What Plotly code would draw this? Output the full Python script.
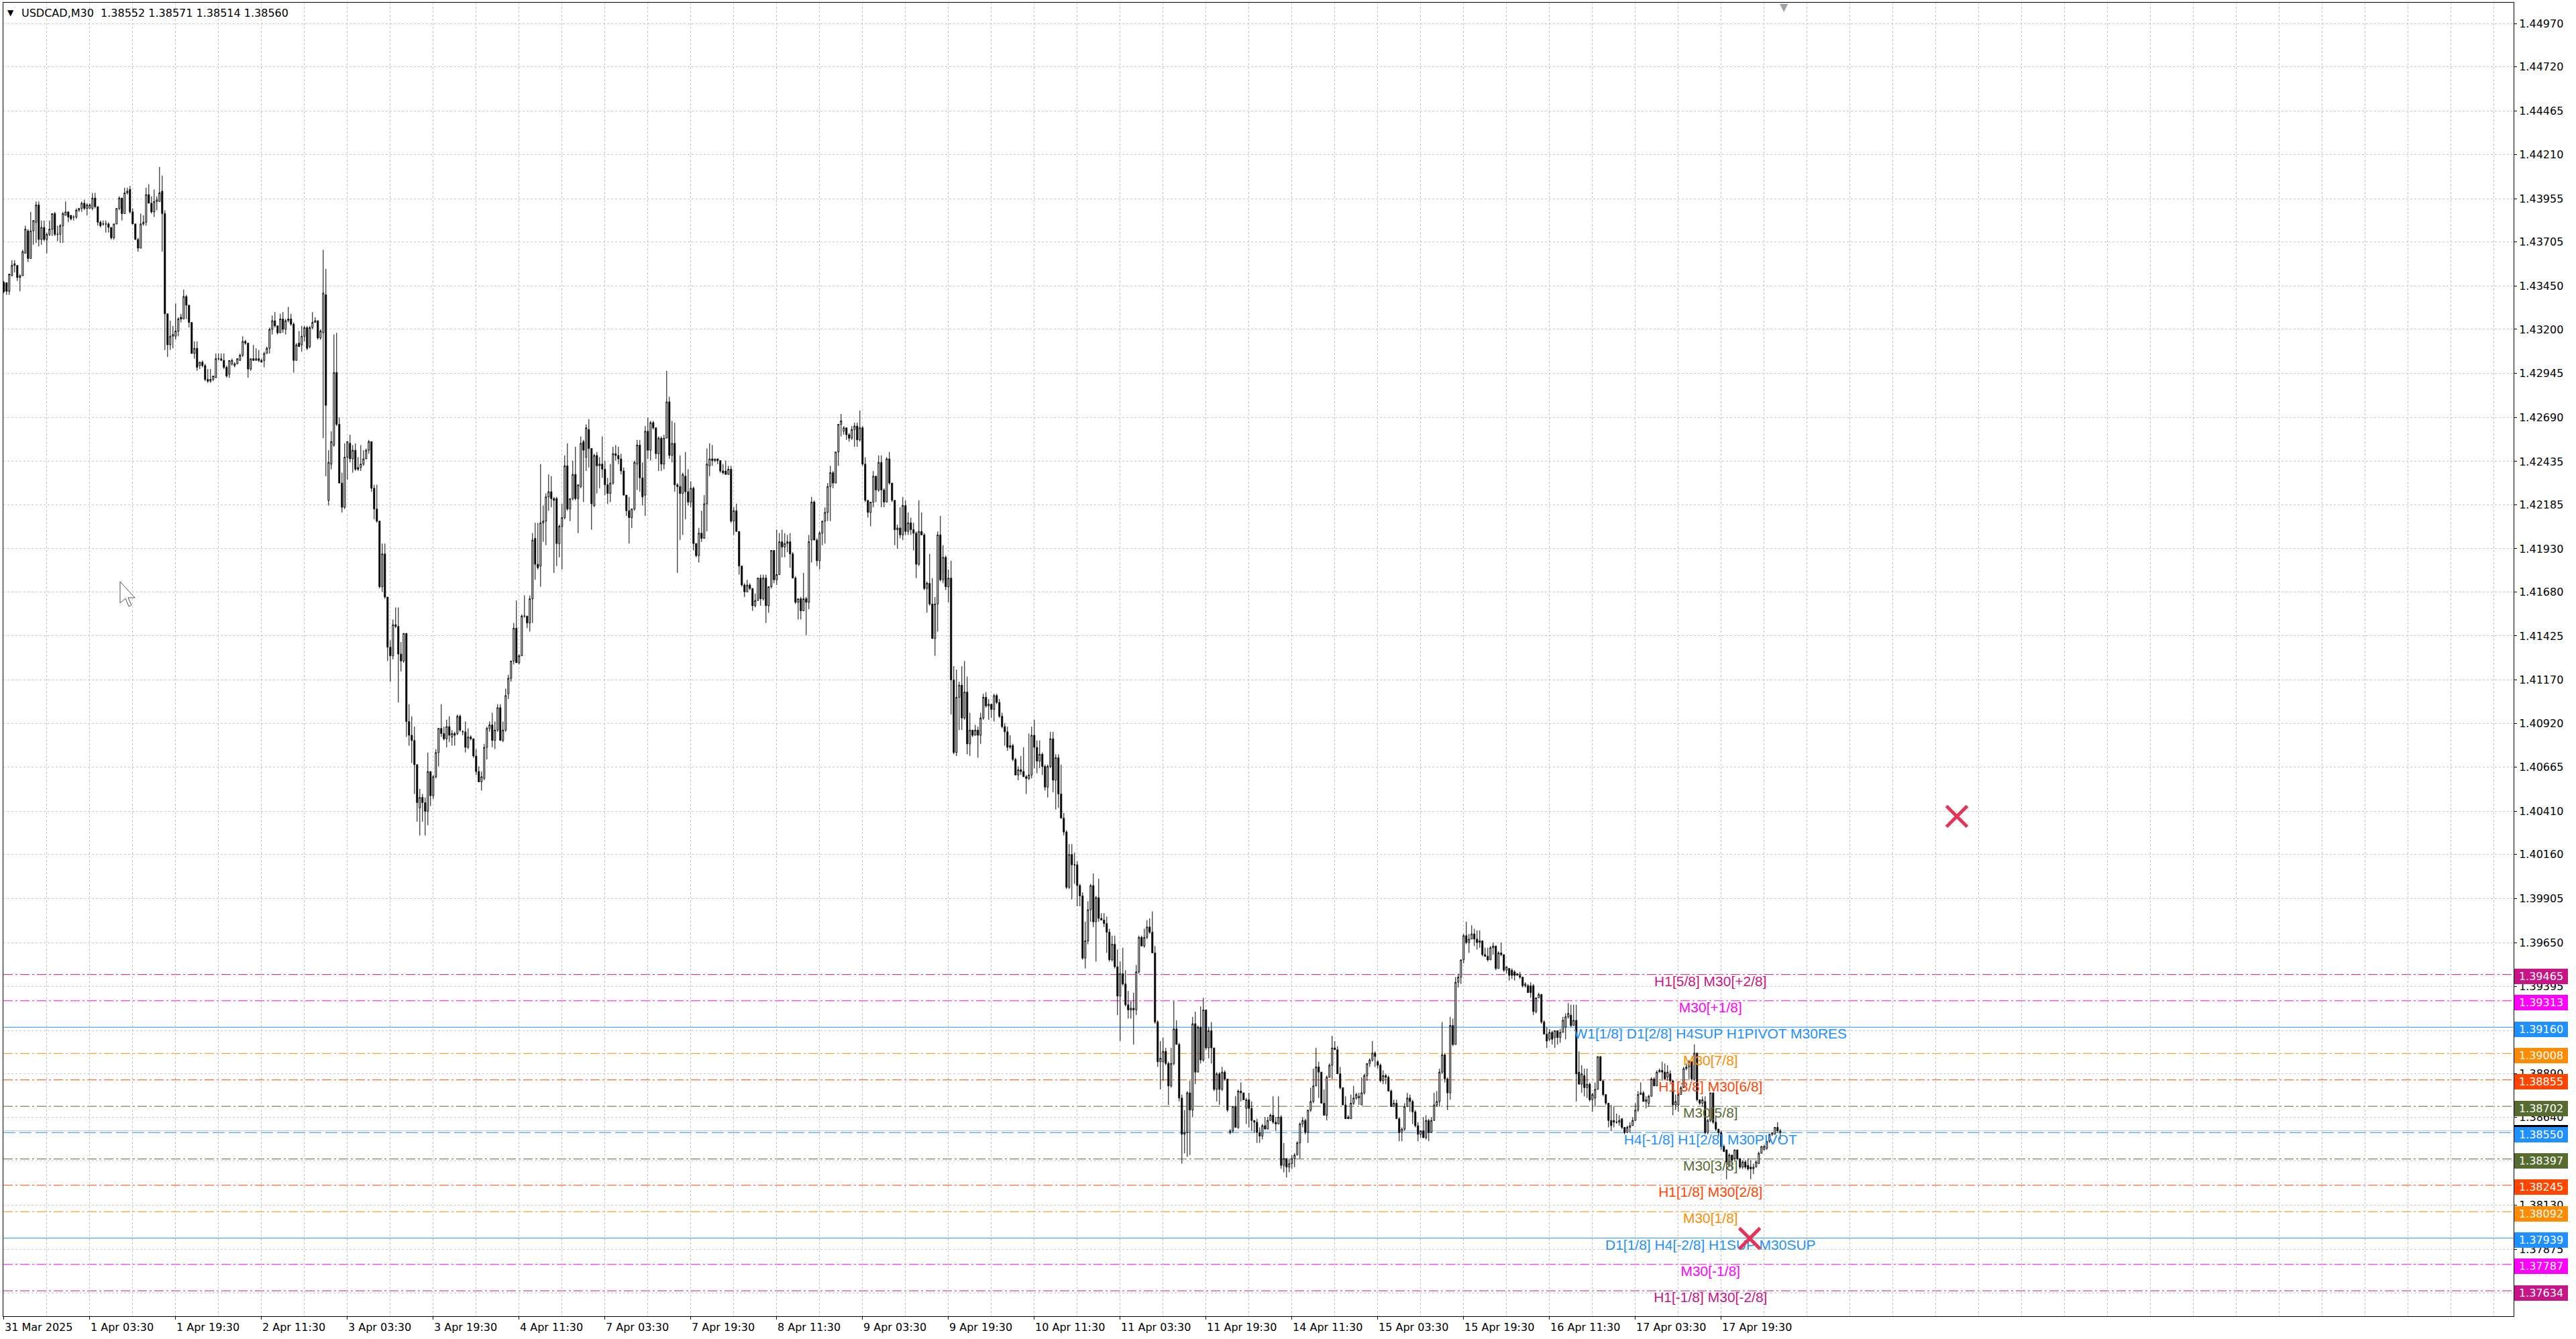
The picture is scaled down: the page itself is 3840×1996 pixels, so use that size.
import plotly.graph_objects as go

# USDCAD M30 candles, prices in pips (1 pip = 0.0001), bar 0 = 31 Mar 11:30
open_pips = [
    14347,14347,14342,14351,14357,14357,14350,14351,14364,14377,
    14361,14377,14382,14392,14372,14379,14372,14375,14378,14387,
    14375,14375,14380,14386,14388,14386,14385,14385,14389,14390,
    14393,14390,14390,14390,14396,14391,14382,14381,14381,14381,
    14379,14373,14381,14390,14396,14387,14399,14401,14388,14381,
    14372,14367,14381,14382,14398,14393,14388,14394,14394,14400,
    14387,14329,14311,14316,14316,14319,14327,14326,14339,14334,
    14324,14306,14309,14299,14301,14299,14291,14290,14291,14292,
    14303,14303,14302,14298,14294,14300,14299,14300,14302,14305,
    14313,14312,14297,14303,14302,14303,14302,14302,14306,14309,
    14320,14325,14322,14318,14326,14320,14325,14326,14323,14302,
    14312,14311,14316,14321,14310,14321,14324,14325,14315,14318,
    14340,14221,14242,14253,14295,14265,14231,14217,14246,14254,
    14245,14250,14240,14240,14242,14245,14250,14255,14228,14216,
    14209,14171,14190,14165,14136,14131,14149,14148,14132,14128,
    14144,14093,14085,14082,14068,14043,14049,14046,14041,14064,
    14050,14061,14075,14089,14086,14083,14090,14084,14086,14086,
    14096,14087,14087,14078,14084,14083,14073,14064,14058,14060,
    14078,14089,14091,14082,14088,14101,14082,14088,14109,14118,
    14128,14147,14127,14131,14154,14154,14150,14164,14199,14184,
    14183,14208,14209,14223,14226,14222,14222,14196,14206,14211,
    14241,14216,14222,14236,14222,14229,14255,14246,14262,14251,
    14218,14247,14241,14242,14239,14230,14225,14231,14248,14247,
    14245,14238,14224,14215,14211,14216,14242,14253,14234,14224,
    14261,14250,14266,14263,14248,14257,14242,14257,14278,14247,
    14254,14230,14229,14225,14235,14226,14220,14228,14196,14189,
    14202,14199,14219,14241,14245,14244,14245,14244,14238,14238,
    14236,14239,14209,14215,14203,14183,14172,14168,14172,14170,
    14160,14163,14176,14164,14176,14160,14171,14192,14175,14178,
    14197,14194,14196,14197,14190,14176,14162,14164,14157,14164,
    14162,14198,14220,14198,14186,14202,14209,14214,14229,14237,
    14231,14249,14265,14261,14263,14259,14257,14262,14264,14256,
    14263,14242,14221,14214,14220,14235,14227,14243,14227,14220,
    14245,14231,14221,14204,14205,14201,14218,14203,14208,14204,
    14202,14184,14203,14201,14170,14173,14161,14141,14161,14201,
    14175,14188,14171,14176,14117,14075,14107,14114,14095,14110,
    14080,14088,14085,14088,14085,14095,14107,14102,14103,14100,
    14108,14104,14096,14090,14087,14078,14079,14071,14062,14065,
    14064,14061,14060,14062,14085,14078,14070,14074,14067,14055,
    14067,14083,14059,14072,14051,14037,14029,13997,14016,14010,
    14010,13998,13992,13956,13966,13984,13998,13977,13991,13979,
    13978,13976,13971,13955,13964,13951,13934,13947,13941,13929,
    13926,13927,13926,13948,13968,13963,13968,13974,13971,13959,
    13919,13896,13896,13902,13895,13882,13895,13915,13906,13875,
    13854,13855,13878,13868,13918,13890,13916,13897,13926,13904,
    13914,13904,13880,13889,13880,13890,13886,13855,13856,13870,
    13858,13879,13878,13869,13874,13869,13862,13861,13855,13853,
    13859,13857,13862,13865,13861,13860,13864,13836,13840,13835,
    13837,13840,13842,13849,13860,13862,13855,13868,13873,13882,
    13893,13890,13872,13865,13887,13894,13904,13903,13889,13881,
    13871,13864,13863,13872,13875,13875,13871,13878,13888,13895,
    13897,13901,13896,13894,13885,13888,13887,13879,13870,13872,
    13863,13855,13857,13870,13875,13873,13867,13859,13854,13856,
    13852,13862,13855,13862,13871,13873,13890,13900,13886,13878,
    13917,13906,13942,13945,13955,13969,13965,13967,13970,13967,
    13965,13966,13958,13957,13955,13962,13963,13950,13959,13958,
    13949,13950,13949,13948,13946,13946,13945,13940,13940,13940,
    13940,13925,13933,13935,13919,13912,13909,13913,13910,13914,
    13910,13913,13916,13922,13923,13917,13920,13890,13883,13888,
    13881,13883,13874,13875,13880,13899,13885,13877,13872,13862,
    13862,13861,13861,13863,13858,13855,13858,13859,13862,13868,
    13877,13878,13873,13872,13876,13886,13882,13890,13891,13890,
    13887,13889,13885,13871,13871,13877,13881,13892,13893,13896,
    13886,13901,13874,13872,13873,13855,13862,13878,13861,13857,
    13855,13847,13845,13836,13842,13840,13845,13840,13835,13838,
    13836,13835,13834,13835,13837,13843,13845,13846,13850,13854,
    13854,13858,13855,
]
high_pips = [
    14348,14347,14352,14360,14360,14357,14352,14366,14380,14378,
    14388,14383,14394,14394,14383,14383,14376,14383,14387,14388,
    14380,14381,14388,14394,14388,14386,14386,14390,14390,14394,
    14395,14393,14393,14399,14399,14391,14383,14383,14383,14382,
    14379,14381,14390,14397,14396,14402,14402,14403,14390,14381,
    14373,14387,14386,14402,14404,14397,14401,14397,14414,14409,
    14389,14329,14325,14322,14335,14327,14329,14343,14340,14334,
    14324,14313,14313,14301,14302,14300,14297,14297,14293,14306,
    14306,14306,14306,14299,14302,14303,14301,14303,14306,14316,
    14314,14312,14303,14311,14309,14308,14303,14307,14310,14321,
    14328,14330,14322,14329,14330,14326,14333,14329,14324,14312,
    14319,14322,14322,14322,14322,14330,14327,14325,14320,14366,
    14355,14250,14261,14317,14318,14269,14237,14254,14255,14259,
    14253,14254,14246,14253,14250,14251,14256,14255,14230,14230,
    14209,14196,14196,14165,14140,14152,14159,14159,14139,14144,
    14144,14103,14096,14090,14068,14054,14051,14049,14075,14064,
    14062,14077,14089,14103,14090,14094,14096,14088,14087,14097,
    14097,14088,14093,14089,14085,14083,14077,14067,14064,14080,
    14090,14093,14098,14093,14103,14103,14093,14112,14120,14128,
    14150,14163,14132,14155,14166,14154,14166,14202,14208,14208,
    14242,14218,14225,14236,14235,14223,14223,14207,14219,14247,
    14254,14222,14244,14252,14230,14258,14256,14265,14268,14251,
    14248,14249,14246,14258,14244,14234,14242,14252,14253,14252,
    14248,14240,14224,14223,14216,14244,14256,14256,14243,14264,
    14269,14267,14267,14263,14258,14258,14259,14296,14281,14267,
    14266,14231,14247,14237,14249,14239,14232,14229,14196,14205,
    14215,14224,14251,14254,14253,14245,14245,14244,14242,14244,
    14241,14241,14217,14219,14203,14183,14173,14175,14173,14170,
    14167,14176,14178,14178,14178,14171,14192,14192,14204,14202,
    14204,14202,14201,14202,14191,14177,14164,14165,14179,14165,
    14201,14223,14221,14199,14203,14209,14217,14231,14241,14238,
    14249,14265,14271,14264,14263,14260,14264,14266,14266,14273,
    14264,14246,14221,14220,14238,14235,14247,14247,14228,14246,
    14249,14231,14221,14207,14217,14223,14221,14214,14211,14208,
    14203,14221,14214,14202,14174,14190,14176,14165,14203,14212,
    14195,14189,14181,14186,14125,14123,14116,14125,14128,14119,
    14098,14088,14091,14090,14098,14109,14110,14106,14103,14109,
    14109,14106,14098,14092,14090,14085,14080,14072,14067,14073,
    14078,14062,14086,14090,14094,14082,14082,14075,14068,14068,
    14087,14087,14074,14074,14068,14040,14030,14022,14022,14017,
    14012,13999,13994,13977,13989,13999,14005,13992,14002,13982,
    13982,13980,13973,13969,13969,13961,13954,13962,13949,13937,
    13931,13936,13952,13969,13969,13973,13978,13979,13983,13963,
    13920,13908,13910,13904,13896,13904,13931,13920,13907,13877,
    13868,13879,13885,13922,13925,13917,13928,13933,13926,13916,
    13919,13904,13890,13890,13893,13891,13886,13857,13870,13876,
    13880,13884,13878,13875,13878,13873,13862,13863,13858,13860,
    13864,13864,13866,13876,13864,13876,13865,13849,13840,13840,
    13842,13843,13850,13861,13864,13863,13868,13881,13892,13904,
    13896,13890,13880,13888,13895,13911,13908,13905,13893,13881,
    13876,13865,13877,13882,13878,13878,13887,13889,13895,13898,
    13908,13902,13897,13895,13891,13889,13888,13880,13874,13874,
    13864,13858,13872,13878,13877,13874,13868,13861,13856,13864,
    13865,13863,13864,13878,13879,13892,13919,13901,13887,13922,
    13921,13945,13947,13955,13970,13977,13970,13975,13973,13972,
    13972,13966,13962,13962,13963,13965,13963,13960,13965,13958,
    13951,13950,13950,13949,13947,13948,13945,13942,13941,13942,
    13941,13933,13936,13935,13920,13916,13915,13914,13914,13914,
    13915,13922,13924,13930,13929,13929,13929,13902,13894,13892,
    13892,13884,13878,13884,13899,13899,13885,13877,13872,13871,
    13870,13866,13865,13863,13858,13859,13861,13864,13872,13879,
    13884,13879,13876,13877,13887,13887,13891,13892,13896,13895,
    13894,13891,13885,13877,13878,13882,13893,13895,13897,13896,
    13906,13901,13874,13876,13876,13863,13878,13878,13864,13857,
    13856,13848,13845,13843,13842,13845,13845,13840,13839,13839,
    13840,13839,13837,13839,13844,13847,13848,13850,13854,13855,
    13858,13861,13857,
]
low_pips = [
    14341,14340,14340,14351,14353,14348,14342,14351,14364,14359,
    14361,14369,14370,14368,14369,14371,14364,14374,14374,14374,
    14371,14370,14370,14386,14382,14383,14383,14384,14388,14388,
    14389,14386,14390,14389,14390,14380,14379,14380,14376,14376,
    14372,14372,14381,14389,14383,14387,14398,14387,14381,14372,
    14365,14367,14380,14380,14393,14387,14385,14389,14394,14365,
    14308,14304,14308,14309,14314,14316,14324,14326,14326,14321,
    14306,14303,14296,14297,14298,14290,14289,14289,14290,14292,
    14302,14302,14297,14292,14292,14299,14298,14300,14302,14304,
    14311,14292,14296,14302,14302,14301,14301,14298,14306,14306,
    14317,14321,14317,14318,14318,14317,14324,14322,14295,14302,
    14310,14307,14313,14308,14309,14320,14324,14314,14314,14257,
    14235,14218,14239,14252,14264,14231,14214,14216,14233,14243,
    14237,14238,14238,14238,14241,14245,14248,14226,14210,14208,
    14170,14168,14164,14128,14116,14129,14147,14104,14122,14127,
    14084,14079,14069,14051,14035,14027,14035,14027,14033,14044,
    14048,14060,14067,14084,14082,14078,14081,14079,14079,14085,
    14087,14085,14075,14077,14082,14072,14062,14058,14053,14059,
    14071,14087,14078,14077,14087,14082,14081,14087,14106,14116,
    14126,14127,14126,14131,14153,14147,14145,14150,14175,14181,
    14171,14197,14195,14215,14217,14179,14183,14188,14181,14210,
    14215,14209,14221,14221,14202,14228,14220,14238,14240,14204,
    14217,14225,14228,14234,14224,14219,14220,14230,14244,14242,
    14236,14224,14212,14196,14205,14215,14227,14226,14218,14212,
    14245,14244,14262,14245,14238,14238,14239,14257,14245,14243,
    14226,14179,14198,14201,14210,14218,14217,14192,14188,14185,
    14197,14199,14203,14235,14241,14243,14242,14237,14236,14236,
    14236,14208,14201,14203,14178,14171,14165,14168,14169,14157,
    14159,14163,14160,14163,14150,14156,14170,14173,14172,14178,
    14188,14188,14191,14182,14176,14161,14152,14152,14157,14143,
    14158,14185,14198,14183,14181,14195,14196,14209,14209,14228,
    14231,14241,14258,14259,14256,14255,14256,14252,14252,14255,
    14241,14220,14211,14206,14217,14220,14226,14217,14217,14220,
    14230,14220,14195,14193,14199,14198,14201,14201,14201,14192,
    14176,14183,14201,14169,14156,14160,14141,14131,14145,14174,
    14173,14169,14162,14097,14074,14073,14088,14088,14094,14074,
    14073,14084,14085,14072,14080,14094,14101,14094,14095,14093,
    14103,14095,14089,14079,14076,14077,14070,14062,14059,14062,
    14061,14051,14059,14060,14066,14063,14066,14062,14053,14049,
    14066,14052,14042,14043,14037,14027,13996,13996,13990,13999,
    13986,13986,13955,13950,13964,13977,13974,13954,13977,13978,
    13974,13959,13954,13954,13950,13923,13908,13940,13928,13921,
    13921,13906,13923,13947,13963,13962,13967,13970,13959,13918,
    13893,13880,13885,13894,13871,13881,13894,13906,13873,13837,
    13843,13841,13842,13864,13883,13890,13895,13896,13903,13898,
    13895,13879,13873,13871,13879,13885,13867,13854,13855,13858,
    13857,13873,13874,13860,13858,13856,13855,13849,13849,13851,
    13857,13857,13862,13860,13856,13860,13834,13832,13829,13832,
    13834,13835,13842,13840,13858,13854,13849,13867,13872,13882,
    13875,13872,13865,13862,13887,13886,13903,13889,13880,13871,
    13863,13863,13863,13871,13874,13871,13871,13877,13885,13893,
    13896,13893,13892,13884,13883,13883,13879,13870,13870,13863,
    13850,13850,13856,13870,13867,13860,13858,13850,13852,13852,
    13851,13850,13855,13862,13870,13870,13889,13884,13868,13874,
    13905,13906,13939,13941,13953,13964,13959,13967,13963,13961,
    13962,13957,13957,13954,13955,13958,13949,13950,13957,13948,
    13947,13943,13944,13943,13946,13944,13939,13939,13936,13933,
    13923,13924,13933,13918,13912,13904,13908,13906,13904,13906,
    13907,13913,13909,13921,13916,13917,13873,13883,13878,13876,
    13875,13873,13867,13870,13880,13885,13876,13871,13858,13856,
    13858,13860,13859,13857,13854,13855,13855,13859,13862,13867,
    13877,13873,13869,13870,13876,13882,13882,13890,13885,13886,
    13885,13884,13865,13868,13867,13877,13881,13891,13886,13885,
    13885,13873,13871,13870,13854,13854,13861,13860,13856,13853,
    13845,13844,13828,13835,13834,13839,13839,13834,13834,13834,
    13833,13828,13831,13835,13837,13843,13845,13845,13849,13853,
    13854,13855,13851,
]
close_pips = [
    14342,14342,14352,14357,14358,14350,14351,14365,14378,14361,
    14377,14383,14392,14372,14379,14372,14375,14378,14387,14375,
    14375,14380,14387,14388,14385,14384,14385,14389,14390,14393,
    14390,14392,14392,14396,14391,14382,14380,14381,14381,14379,
    14373,14381,14390,14396,14387,14399,14400,14388,14381,14372,
    14367,14381,14382,14398,14393,14388,14394,14395,14399,14387,
    14329,14311,14316,14317,14319,14326,14326,14339,14334,14324,
    14306,14309,14298,14301,14299,14291,14290,14291,14293,14303,
    14303,14302,14298,14293,14302,14302,14300,14303,14305,14313,
    14312,14297,14303,14302,14303,14302,14301,14306,14309,14320,
    14325,14322,14318,14326,14320,14325,14326,14323,14302,14311,
    14310,14316,14321,14309,14321,14324,14325,14315,14319,14341,
    14276,14243,14255,14295,14265,14231,14217,14246,14255,14245,
    14250,14239,14239,14242,14245,14250,14255,14228,14216,14209,
    14171,14190,14165,14136,14131,14149,14148,14132,14128,14144,
    14093,14085,14082,14068,14046,14049,14046,14041,14064,14050,
    14061,14075,14089,14086,14083,14090,14085,14086,14085,14096,
    14088,14087,14078,14084,14083,14073,14064,14058,14061,14078,
    14089,14091,14082,14088,14101,14082,14088,14108,14118,14128,
    14147,14127,14131,14154,14154,14150,14164,14198,14184,14182,
    14208,14209,14223,14226,14222,14221,14196,14206,14211,14241,
    14216,14222,14236,14222,14230,14254,14250,14263,14251,14219,
    14247,14241,14242,14239,14230,14225,14231,14248,14247,14245,
    14238,14224,14215,14211,14216,14243,14253,14234,14223,14261,
    14250,14266,14263,14248,14257,14242,14257,14278,14247,14254,
    14230,14229,14225,14236,14226,14220,14228,14196,14189,14202,
    14199,14219,14242,14245,14244,14245,14244,14238,14237,14236,
    14239,14209,14215,14203,14183,14172,14168,14172,14170,14160,
    14163,14176,14164,14176,14160,14171,14192,14175,14178,14197,
    14194,14196,14197,14190,14176,14162,14164,14157,14164,14162,
    14197,14220,14198,14186,14202,14209,14214,14229,14237,14231,
    14249,14265,14267,14263,14259,14257,14262,14264,14256,14263,
    14242,14221,14214,14220,14235,14227,14243,14227,14220,14245,
    14231,14221,14204,14205,14201,14218,14203,14208,14204,14202,
    14184,14203,14201,14170,14173,14161,14141,14161,14201,14175,
    14188,14171,14176,14117,14075,14107,14114,14095,14110,14080,
    14088,14085,14088,14085,14095,14107,14102,14103,14100,14108,
    14104,14096,14090,14087,14078,14079,14071,14062,14065,14064,
    14061,14060,14062,14085,14078,14070,14074,14067,14055,14067,
    14083,14059,14072,14051,14037,14029,13997,14016,14010,14010,
    13998,13992,13956,13966,13984,13998,13977,13991,13979,13978,
    13976,13971,13955,13964,13951,13934,13947,13941,13929,13926,
    13927,13926,13948,13968,13963,13968,13974,13971,13959,13919,
    13896,13898,13902,13895,13882,13895,13915,13906,13875,13854,
    13855,13878,13868,13918,13890,13916,13897,13926,13904,13914,
    13904,13880,13889,13880,13890,13886,13868,13856,13870,13858,
    13879,13878,13874,13874,13869,13862,13861,13855,13853,13859,
    13857,13862,13865,13861,13860,13864,13836,13840,13835,13837,
    13840,13842,13849,13860,13862,13855,13868,13873,13882,13893,
    13890,13872,13865,13887,13894,13904,13903,13889,13881,13871,
    13863,13863,13872,13875,13877,13876,13878,13888,13895,13897,
    13901,13899,13894,13885,13888,13887,13879,13870,13872,13863,
    13855,13857,13870,13875,13873,13867,13859,13854,13856,13852,
    13862,13855,13862,13871,13873,13890,13900,13886,13878,13917,
    13906,13942,13945,13955,13969,13965,13967,13970,13967,13965,
    13966,13958,13957,13955,13962,13963,13950,13959,13958,13949,
    13951,13946,13946,13946,13947,13945,13940,13941,13936,13936,
    13925,13933,13935,13919,13912,13908,13913,13909,13914,13910,
    13913,13920,13922,13924,13917,13920,13889,13883,13889,13881,
    13883,13874,13877,13880,13899,13885,13877,13872,13862,13859,
    13861,13861,13862,13858,13855,13858,13859,13862,13868,13877,
    13878,13873,13874,13876,13886,13882,13890,13891,13890,13886,
    13890,13885,13871,13873,13877,13881,13892,13893,13896,13886,
    13901,13874,13872,13874,13855,13862,13878,13861,13857,13855,
    13847,13844,13838,13842,13839,13845,13840,13835,13838,13835,
    13834,13834,13835,13838,13843,13847,13847,13850,13854,13855,
    13858,13856,13856,
]

# time axis labels (every 32 bars)
tick_bars = list(range(0, 641, 32))
tick_labels = ["31 Mar 2025", "1 Apr 03:30", "1 Apr 19:30", "2 Apr 11:30", "3 Apr 03:30",
               "3 Apr 19:30", "4 Apr 11:30", "7 Apr 03:30", "7 Apr 19:30", "8 Apr 11:30",
               "9 Apr 03:30", "9 Apr 19:30", "10 Apr 11:30", "11 Apr 03:30", "11 Apr 19:30",
               "14 Apr 11:30", "15 Apr 03:30", "15 Apr 19:30", "16 Apr 11:30", "17 Apr 03:30",
               "17 Apr 19:30"]

price_ticks = [1.44970, 1.44720, 1.44465, 1.44210, 1.43955, 1.43705, 1.43450, 1.43200,
               1.42945, 1.42690, 1.42435, 1.42185, 1.41930, 1.41680, 1.41425, 1.41170,
               1.40920, 1.40665, 1.40410, 1.40160, 1.39905, 1.39650, 1.39395, 1.39140,
               1.38890, 1.38640, 1.38385, 1.38130, 1.37875, 1.37620]

# murrey / pivot levels
level_prices = [1.39465, 1.39313, 1.39160, 1.39008, 1.38855, 1.38702, 1.38550,
                1.38397, 1.38245, 1.38092, 1.37939, 1.37787, 1.37634]
level_names = ["H1[5/8] M30[+2/8]", "M30[+1/8]", "W1[1/8] D1[2/8] H4SUP H1PIVOT M30RES",
               "M30[7/8]", "H1[3/8] M30[6/8]", "M30[5/8]", "H4[-1/8] H1[2/8] M30PIVOT",
               "M30[3/8]", "H1[1/8] M30[2/8]", "M30[1/8]", "D1[1/8] H4[-2/8] H1SUP M30SUP",
               "M30[-1/8]", "H1[-1/8] M30[-2/8]"]
level_colors = ["#C71585", "#FF00FF", "#1E90FF", "#FF8C00", "#FF4500", "#556B2F", "#1E90FF",
                "#556B2F", "#FF4500", "#FF8C00", "#1E90FF", "#FF00FF", "#C71585"]
level_styles = ["dashdot", "dashdot", "solid", "dashdot", "dashdot", "dashdot", "dash",
                "dashdot", "dashdot", "dashdot", "solid", "dashdot", "dashdot"]
label_bar = 636

bid_price = 1.38560
title_text = "USDCAD,M30\u00a0 1.38552 1.38571 1.38514 1.38560"

# red cross objects
cross_bars = [727.8, 650.6]
cross_prices = [1.40380, 1.37937]
shift_bar = 663.3

W, H = 3840, 1996
ML, MR, MT, MB = 5, 93, 4, 34
y_range = [1.37487, 1.45091]
x_range = [-0.2, 935.3]
plot_w = W - ML - MR
plot_h = H - MT - MB
px_per_price = plot_h / (y_range[1] - y_range[0])

GRID = "#C8C8C8"
AXFONT = dict(family="DejaVu Sans", size=16, color="black")

dash_map = {"dashdot": "14px,4px,3px,4px", "dash": "18px,6px", "solid": "solid"}

opens = [v / 10000 for v in open_pips]
highs = [v / 10000 for v in high_pips]
lows = [v / 10000 for v in low_pips]
closes = [v / 10000 for v in close_pips]
bars = list(range(len(closes)))

fig = go.Figure()

# level captions (under the candles)
text_off = 12 / px_per_price
fig.add_trace(go.Scatter(
    x=[label_bar] * len(level_prices),
    y=[p - text_off for p in level_prices],
    mode="text", text=level_names,
    textposition="middle center",
    textfont=dict(family="Liberation Sans, Arial", size=21, color=level_colors),
    hoverinfo="skip", showlegend=False,
))

fig.add_trace(go.Candlestick(
    x=bars, open=opens, high=highs, low=lows, close=closes,
    increasing=dict(line=dict(color="black", width=1), fillcolor="white"),
    decreasing=dict(line=dict(color="black", width=1), fillcolor="black"),
    whiskerwidth=0, hoverinfo="skip", showlegend=False,
))

fig.add_trace(go.Scatter(
    x=cross_bars, y=cross_prices, mode="markers",
    marker=dict(symbol="x-thin", size=31, line=dict(color="#E63358", width=5)),
    hoverinfo="skip", showlegend=False,
))

shapes = []
for p, c, s in zip(level_prices, level_colors, level_styles):
    shapes.append(dict(type="line", xref="paper", x0=0, x1=1, yref="y", y0=p, y1=p,
                       line=dict(color=c, width=1, dash=dash_map[s]), layer="between"))
shapes.append(dict(type="line", xref="paper", x0=0, x1=1, yref="y", y0=bid_price, y1=bid_price,
                   line=dict(color="#C0C0C0", width=1), layer="between"))


# mouse pointer left on the chart
def to_paper(px, py):
    return (px - ML) / plot_w, 1 - (py - MT) / plot_h


cursor = [(0, 0), (0, 32), (8, 25), (13, 37), (17, 35), (12, 24), (22, 24)]
pts = [to_paper(179 + dx, 867 + dy) for dx, dy in cursor]
path = "M " + " L ".join(f"{a:.5f},{b:.5f}" for a, b in pts) + " Z"
shapes.append(dict(type="path", xref="paper", yref="paper", path=path,
                   fillcolor="white", line=dict(color="#505050", width=1), layer="above"))

annotations = []
annotations.append(dict(xref="paper", yref="paper", x=0, y=1, xanchor="left", yanchor="middle",
                        xshift=4, yshift=-15, text="\u25bc", showarrow=False,
                        font=dict(family="DejaVu Sans", size=12, color="black")))
annotations.append(dict(xref="paper", yref="paper", x=0, y=1, xanchor="left", yanchor="middle",
                        xshift=25, yshift=-15.5, text=title_text, showarrow=False, font=AXFONT))
annotations.append(dict(xref="x", yref="paper", x=shift_bar, y=1, xanchor="center", yanchor="top",
                        yshift=5, text="\u25bc", showarrow=False,
                        font=dict(family="DejaVu Sans", size=16, color="#A0A0A0")))

for b, t in zip(tick_bars, tick_labels):
    annotations.append(dict(xref="x", yref="paper", x=b, y=0, xanchor="left", yanchor="middle",
                            xshift=-1, yshift=-16.5, text=t, showarrow=False, font=AXFONT))

box_list = [(bid_price, "black")] + list(zip(level_prices, level_colors))
for p, c in box_list:
    annotations.append(dict(xref="paper", yref="y", x=1, y=p, xanchor="left", yanchor="middle",
                            xshift=1, yshift=-3, text=f"{p:.5f}", showarrow=False,
                            font=dict(family="DejaVu Sans", size=16, color="white"),
                            bgcolor=c, borderpad=2, borderwidth=1, bordercolor=c,
                            width=74, height=17, align="center"))

fig.update_layout(
    width=W, height=H,
    margin=dict(l=ML, r=MR, t=MT, b=MB),
    paper_bgcolor="white", plot_bgcolor="white",
    hovermode=False, showlegend=False,
    shapes=shapes, annotations=annotations,
    xaxis=dict(
        range=x_range, tickmode="array", tickvals=tick_bars, showticklabels=False,
        ticks="outside", ticklen=4, tickcolor="black",
        showgrid=True, gridcolor=GRID, griddash="3px,3px", gridwidth=1,
        minor=dict(tickmode="linear", tick0=0, dtick=16, showgrid=True, gridcolor=GRID,
                   griddash="3px,3px", ticks=""),
        showline=True, mirror=True, linecolor="black", linewidth=1,
        zeroline=False, rangeslider=dict(visible=False), fixedrange=True,
    ),
    yaxis=dict(
        range=y_range, side="right", tickmode="array", tickvals=price_ticks,
        ticktext=[f"{v:.5f}" for v in price_ticks], tickfont=AXFONT,
        ticks="outside", ticklen=4, tickcolor="black",
        showgrid=True, gridcolor=GRID, griddash="3px,3px", gridwidth=1,
        showline=True, mirror=True, linecolor="black", linewidth=1,
        zeroline=False, fixedrange=True,
    ),
)

# the page body has a default 8px margin; drop it so the chart fills the window
fig.write_html("out.html", config={"displayModeBar": False},
               post_script="document.body.style.margin='0';")
